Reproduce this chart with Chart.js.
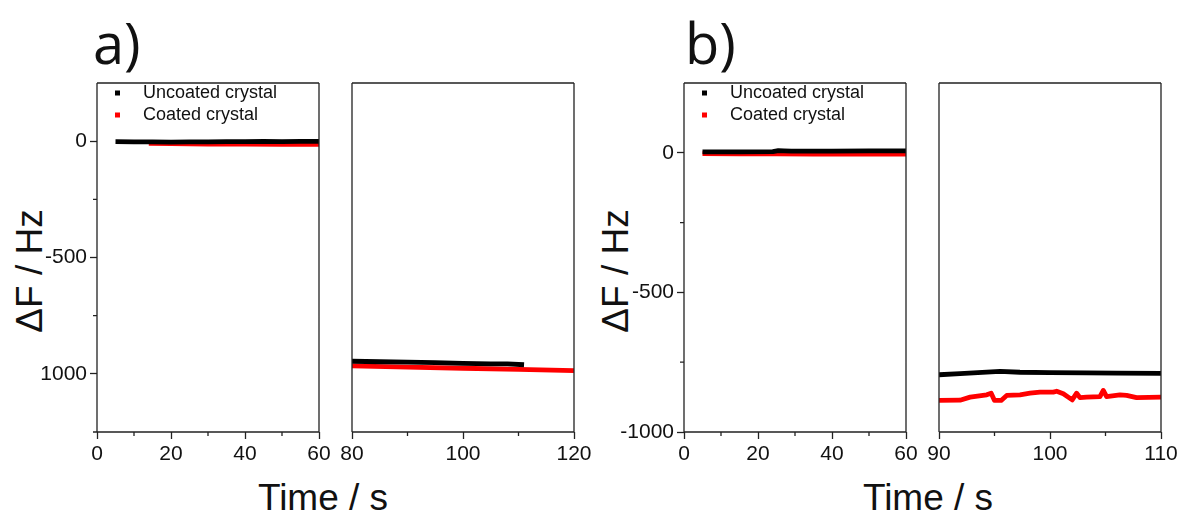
<!DOCTYPE html>
<html>
<head>
<meta charset="utf-8">
<script src="https://cdn.jsdelivr.net/npm/chart.js@4.4.1/dist/chart.umd.min.js"></script>
<style>
    body { margin: 0; background: #fff; }
    #fig { position: relative; width: 1183px; height: 515px; overflow: hidden; font-family: "Liberation Sans", Arial, sans-serif; color: #111; }
    #fig canvas { position: absolute; }
    .panel { position: absolute; font-family: "Open Sans", "Noto Sans", sans-serif; font-size: 56px; line-height: 1; }
    .ytitle { position: absolute; font-size: 37px; line-height: 1; white-space: nowrap; transform: translate(-50%, -50%) rotate(-90deg); }
    .xtitle { position: absolute; font-size: 37px; line-height: 1; white-space: nowrap; transform: translateX(-50%); }
</style>
</head>
<body>
<div id="fig">
    <div class="panel" style="left:93px; top:14px">a)</div>
    <div class="panel" style="left:685px; top:14px">b)</div>
    <div class="ytitle" style="left:29px; top:271px">ΔF / Hz</div>
    <div class="ytitle" style="left:615px; top:271px">ΔF / Hz</div>
    <div class="xtitle" style="left:323px; top:479px">Time / s</div>
    <div class="xtitle" style="left:928px; top:479px">Time / s</div>
    <canvas id="a1" width="312" height="440" style="left:27px; top:40px"></canvas>
    <canvas id="a2" width="312" height="440" style="left:282px; top:40px"></canvas>
    <canvas id="b1" width="312" height="440" style="left:614px; top:40px"></canvas>
    <canvas id="b2" width="312" height="440" style="left:869px; top:40px"></canvas>
</div>
<script>
    const seriesLabels = ['Uncoated crystal', 'Coated crystal'];
    const seriesColors = ['#000000', '#ff0000'];

    // a) first window, 0-60 s
    const timeA1Uncoated = [5, 10, 15, 20, 25, 30, 35, 40, 45, 50, 55, 60];
    const dfA1Uncoated = [-2, -3, -3, -4, -3, -3, -2, -2, -1, -2, -1, -1];
    const timeA1Coated = [14, 20, 25, 30, 40, 50, 60];
    const dfA1Coated = [-9, -10, -11, -13, -13, -14, -14];

    // a) second window, 80-120 s
    const timeA2Uncoated = [80, 85, 90, 95, 100, 105, 108, 111];
    const dfA2Uncoated = [-946, -948, -950, -952, -955, -957, -957, -961];
    const timeA2Coated = [80, 90, 100, 110, 120];
    const dfA2Coated = [-966, -971, -976, -981, -986];

    // b) first window, 0-60 s
    const timeB1Uncoated = [5, 15, 24, 25.5, 27, 29, 40, 50, 60];
    const dfB1Uncoated = [3, 3, 4, 8, 7, 6, 6, 7, 7];
    const timeB1Coated = [5, 15, 25, 35, 45, 60];
    const dfB1Coated = [-3, -4, -4, -5, -5, -5];

    // b) second window, 90-110 s
    const timeB2Uncoated = [90, 91.9, 93.5, 95.5, 97.3, 100, 103.3, 106, 110];
    const dfB2Uncoated = [-795, -791, -787, -783, -786, -787, -788, -789, -790];
    const timeB2Coated = [90, 91.9, 92.8, 94.3, 94.7, 95.0, 95.6, 96.1, 97.3, 98.2, 99.1, 100.3, 100.6, 101.2, 102.0, 102.4, 102.7, 103.3, 104.5, 104.8, 105.1, 106.3, 106.9, 107.8, 110];
    const dfB2Coated = [-887, -886, -875, -867, -861, -887, -887, -869, -867, -861, -857, -857, -854, -863, -885, -861, -877, -875, -873, -851, -873, -867, -869, -877, -875];

    const yTickValues = [0, -500, -1000];
    const yTickLabelsA = ['0', '-500', '1000'];
    const yTickLabelsB = ['0', '-500', '-1000'];

    const axisColor = '#222';
    const axisWidth = 1.3;
    const tickFont = { family: '"Liberation Sans", Arial, sans-serif', size: 21 };

    const pts = (xs, ys) => xs.map((x, i) => ({ x: x, y: ys[i] }));

    // frame, minor ticks and the in-plot legend
    const framePlugin = {
        id: 'frame',
        afterDraw(chart, args, opts) {
            const ctx = chart.ctx;
            const a = chart.chartArea;
            const xs = chart.scales.x, ys = chart.scales.y;
            ctx.save();
            ctx.strokeStyle = axisColor;
            ctx.lineWidth = axisWidth;
            ctx.beginPath();
            ctx.moveTo(a.left, a.top); ctx.lineTo(a.right, a.top);
            ctx.moveTo(a.right, a.top); ctx.lineTo(a.right, a.bottom);
            ctx.moveTo(a.left, a.top); ctx.lineTo(a.left, a.bottom);
            ctx.moveTo(a.left, a.bottom); ctx.lineTo(a.right, a.bottom);
            xs.ticks.forEach(t => {
                if (t.value % opts.xMajor !== 0) {
                    const px = xs.getPixelForValue(t.value);
                    ctx.moveTo(px, a.bottom); ctx.lineTo(px, a.bottom + 4);
                }
            });
            if (opts.yTicks) {
                ys.ticks.forEach(t => {
                    if (t.value % 500 !== 0 && t.value !== ys.max) {
                        const py = ys.getPixelForValue(t.value);
                        ctx.moveTo(a.left - 4, py); ctx.lineTo(a.left, py);
                    }
                });
            }
            ctx.stroke();

            if (opts.legend) {
                ctx.font = '18px "Liberation Sans", Arial, sans-serif';
                ctx.textBaseline = 'middle';
                chart.data.datasets.forEach((ds, i) => {
                    const y = a.top + 10 + i * 22;
                    ctx.fillStyle = ds.borderColor;
                    ctx.fillRect(a.left + 18, y - 2.5, 5, 5);
                    ctx.fillStyle = '#111';
                    ctx.fillText(ds.label, a.left + 46, y);
                });
            }
            ctx.restore();
        }
    };

    function makeChart(id, cfg) {
        const datasets = cfg.series.map((s, i) => ({
            label: seriesLabels[i],
            data: pts(s[0], s[1]),
            borderColor: seriesColors[i],
            backgroundColor: seriesColors[i],
            borderWidth: 4.8,
            pointRadius: 0,
            tension: 0,
            borderJoinStyle: 'round'
        }));
        return new Chart(document.getElementById(id), {
            type: 'line',
            data: { datasets: datasets },
            plugins: [framePlugin],
            options: {
                responsive: false,
                animation: false,
                layout: { padding: { left: 0, right: 20, top: 43, bottom: 0 } },
                plugins: {
                    legend: { display: false },
                    tooltip: { enabled: false },
                    frame: { xMajor: cfg.xMajor, yTicks: !!cfg.yLabels, legend: cfg.legend }
                },
                scales: {
                    x: {
                        type: 'linear',
                        min: cfg.xMin, max: cfg.xMax,
                        afterFit: s => { s.height = 48; s.paddingLeft = 0; s.paddingRight = 0; },
                        border: { display: false },
                        grid: {
                            drawOnChartArea: false,
                            tickLength: 7,
                            tickWidth: axisWidth,
                            tickColor: c => (c.tick && c.tick.value % cfg.xMajor === 0) ? axisColor : 'rgba(0,0,0,0)'
                        },
                        ticks: {
                            stepSize: cfg.xStep,
                            autoSkip: false,
                            maxRotation: 0,
                            padding: 3,
                            color: '#111',
                            font: tickFont,
                            callback: v => v % cfg.xMajor === 0 ? String(v) : ''
                        }
                    },
                    y: {
                        min: cfg.yMin, max: 250,
                        afterFit: s => { s.width = 70; s.paddingTop = 0; s.paddingBottom = 0; },
                        border: { display: false },
                        grid: {
                            display: !!cfg.yLabels,
                            drawOnChartArea: false,
                            tickLength: 7,
                            tickWidth: axisWidth,
                            tickColor: c => (c.tick && c.tick.value % 500 === 0) ? axisColor : 'rgba(0,0,0,0)'
                        },
                        ticks: {
                            display: !!cfg.yLabels,
                            stepSize: 250,
                            autoSkip: false,
                            padding: 3,
                            color: '#111',
                            font: tickFont,
                            callback: v => {
                                const i = yTickValues.indexOf(v);
                                return (i >= 0 && cfg.yLabels) ? cfg.yLabels[i] : '';
                            }
                        }
                    }
                }
            }
        });
    }

    makeChart('a1', {
        series: [[timeA1Uncoated, dfA1Uncoated], [timeA1Coated, dfA1Coated]],
        xMin: 0, xMax: 60, xStep: 10, xMajor: 20, yMin: -1250, yLabels: yTickLabelsA, legend: true
    });
    makeChart('a2', {
        series: [[timeA2Uncoated, dfA2Uncoated], [timeA2Coated, dfA2Coated]],
        xMin: 80, xMax: 120, xStep: 10, xMajor: 20, yMin: -1250, yLabels: null, legend: false
    });
    makeChart('b1', {
        series: [[timeB1Uncoated, dfB1Uncoated], [timeB1Coated, dfB1Coated]],
        xMin: 0, xMax: 60, xStep: 10, xMajor: 20, yMin: -1000, yLabels: yTickLabelsB, legend: true
    });
    makeChart('b2', {
        series: [[timeB2Uncoated, dfB2Uncoated], [timeB2Coated, dfB2Coated]],
        xMin: 90, xMax: 110, xStep: 5, xMajor: 10, yMin: -1000, yLabels: null, legend: false
    });
</script>
</body>
</html>
